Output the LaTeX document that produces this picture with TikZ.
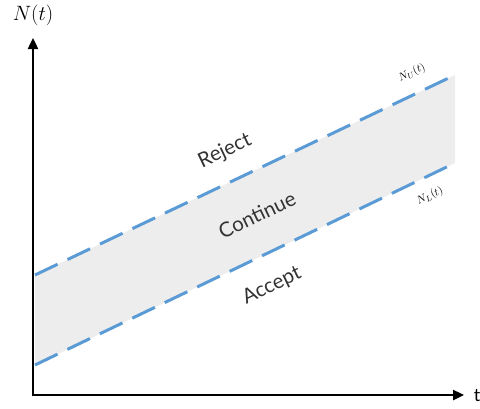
\documentclass[tikz,border=0pt]{standalone}
\usepackage{fontspec}
\setmainfont{Lato}
\usetikzlibrary{arrows.meta}
\definecolor{bandgray}{HTML}{EDEDED}
\definecolor{boundblue}{HTML}{5B9BD5}
\tikzset{
  axis/.style={line width=2.4pt, -{Triangle[length=11pt,width=10pt]}},
  bound/.style={boundblue, line width=3pt, dash pattern=on 25pt off 11pt},
  region/.style={text=black!80, font=\fontsize{20.5}{22}\selectfont, rotate=25.5, inner sep=0pt},
  boundlabel/.style={font=\fontsize{11}{12}\selectfont, rotate=25.5, inner sep=0pt}
}
\begin{document}
\begin{tikzpicture}[x=1pt, y=-1pt]
  \useasboundingbox (0,0) rectangle (480,408);
  % corners of the continuation band
  \coordinate (u0) at (35,275);
  \coordinate (u1) at (455,75);
  \coordinate (l0) at (35,365);
  \coordinate (l1) at (455,163);
  \fill[bandgray] (u0) -- (u1) -- (l1) -- (l0) -- cycle;
  % thresholds
  \draw[bound] (u0) -- (u1);
  \draw[bound] (l0) -- (l1);
  % axes
  \coordinate (o) at (33,395);
  \coordinate (ytop) at (33,38);
  \coordinate (xend) at (464,395);
  \draw[axis] (o) -- (ytop);
  \draw[axis] ([xshift=-1.2pt]o) -- (xend);
  \node (ylab) at (33,15) {\fontsize{20}{22}\selectfont$N(t)$};
  \node (xlab) at (477,396) {\fontsize{18}{20}\selectfont t};
  % region names
  \node[region] (rej) at (225,151) {Reject};
  \node[region] (cont) at (257,215) {Continue};
  \node[region] (acc) at (272,286) {Accept};
  % boundary names
  \node[boundlabel] (nu) at (412,73) {$N_U(t)$};
  \node[boundlabel] (nl) at (430,196) {$N_L(t)$};
\end{tikzpicture}
\end{document}
